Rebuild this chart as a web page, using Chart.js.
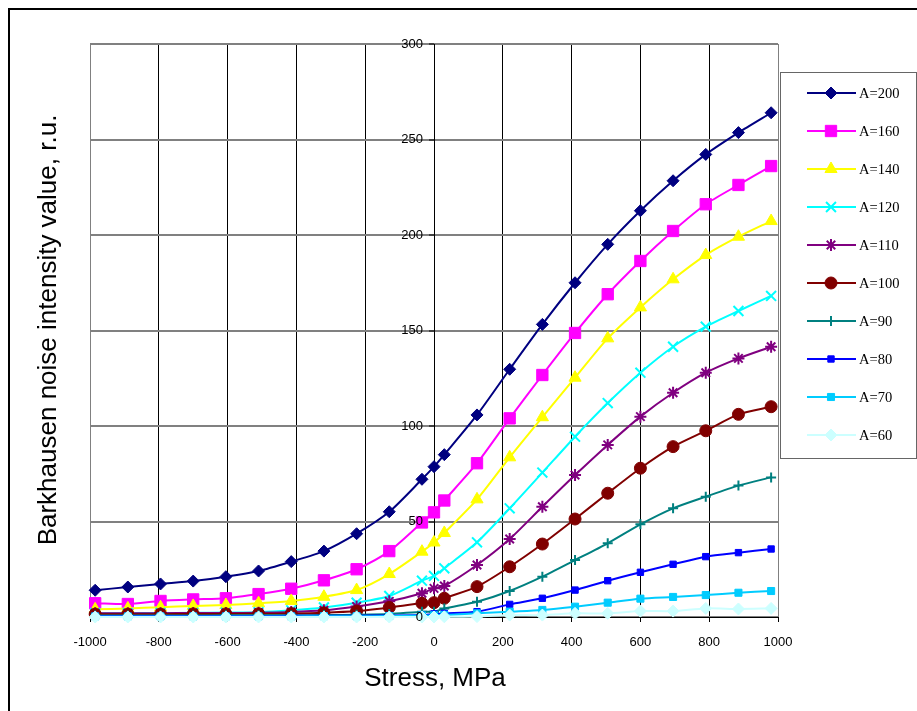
<!DOCTYPE html>
<html>
<head>
<meta charset="utf-8">
<script src="https://cdn.jsdelivr.net/npm/chart.js@4.4.1/dist/chart.umd.min.js"></script>
<style>
  html, body { margin: 0; padding: 0; background: #fff; }
  canvas { display: block; }
</style>
</head>
<body>
<canvas id="chart" width="917" height="711"></canvas>
<script>
// stress values, MPa
const stress = [-985, -890, -795, -700, -605, -510, -415, -320, -225, -130, -35, 0, 30,
  125, 220, 315, 410, 505, 600, 695, 790, 885, 980];

const seriesNames = ['A=200', 'A=160', 'A=140', 'A=120', 'A=110', 'A=100', 'A=90', 'A=80', 'A=70', 'A=60'];

const a200 = [14.0, 15.7, 17.3, 18.8, 21.1, 24.1, 29.0, 34.5, 43.6, 55.1, 72.1, 78.7, 85.0,
  105.8, 129.7, 153.2, 175.0, 195.1, 212.7, 228.4, 242.2, 253.6, 264.0];
const a160 = [7.2, 6.8, 8.4, 9.2, 9.8, 12.0, 14.8, 19.2, 25.0, 34.5, 49.5, 54.8, 61.0,
  80.5, 104.0, 126.7, 148.7, 169.0, 186.4, 202.1, 216.1, 226.2, 236.1];
const a140 = [4.0, 4.5, 5.1, 5.8, 6.3, 7.2, 8.4, 10.6, 14.1, 22.5, 34.2, 39.0, 44.0,
  61.6, 83.6, 104.6, 125.3, 145.9, 162.1, 176.8, 189.5, 199.1, 207.3];
const a120 = [2.0, 2.0, 2.1, 2.2, 2.3, 2.5, 3.5, 5.0, 7.5, 11.0, 19.0, 21.5, 25.5,
  39.1, 56.9, 75.6, 94.4, 112.0, 127.9, 141.5, 152.0, 160.2, 168.1];
const a110 = [2.0, 2.0, 2.0, 2.1, 2.1, 2.2, 2.6, 3.5, 5.5, 8.2, 12.4, 15.0, 16.2,
  27.2, 40.8, 57.7, 74.3, 90.1, 104.9, 117.4, 127.9, 135.4, 141.5];
const a100 = [1.5, 1.5, 1.5, 1.6, 1.6, 1.7, 1.8, 2.2, 3.1, 5.0, 7.2, 7.5, 9.8,
  15.9, 26.3, 38.2, 51.3, 64.8, 77.9, 89.2, 97.5, 106.1, 110.1];
const a90 = [0.8, 0.8, 0.8, 0.8, 0.9, 0.9, 0.9, 1.0, 1.2, 1.6, 2.8, 2.8, 4.5,
  8.0, 13.6, 21.1, 29.8, 38.6, 48.5, 56.9, 63.0, 68.8, 73.1];
const a80 = [0.5, 0.5, 0.5, 0.5, 0.5, 0.5, 0.6, 0.6, 0.7, 0.8, 1.0, 1.6, 1.9,
  2.8, 6.6, 9.8, 14.1, 19.0, 23.4, 27.6, 31.6, 33.7, 35.6];
const a70 = [0.3, 0.3, 0.3, 0.3, 0.3, 0.3, 0.3, 0.4, 0.4, 0.5, 0.8, 0.9, 1.1,
  1.9, 2.8, 3.7, 5.4, 7.5, 9.6, 10.5, 11.5, 12.7, 13.6];
const a60 = [0, 0, 0, 0, 0, 0, 0, 0, 0, 0, 0, 0, 0.1,
  0.2, 1.0, 1.0, 1.9, 1.9, 3.1, 3.1, 4.5, 4.2, 4.5];

const seriesValues = [a200, a160, a140, a120, a110, a100, a90, a80, a70, a60];

const xTicks = [-1000, -800, -600, -400, -200, 0, 200, 400, 600, 800, 1000];
const yTicks = [0, 50, 100, 150, 200, 250, 300];

// styles
const colors = ['#000080', '#FF00FF', '#FFFF00', '#00FFFF', '#800080', '#800000', '#008080', '#0000FF', '#00CCFF', '#CCFFFF'];
const markers = ['rectRot', 'rect', 'triangle', 'crossRot', 'star', 'circle', 'cross', 'rect', 'rect', 'rectRot'];
const radii = [6, 8, 7, 7, 6, 6, 5, 4.5, 5, 6];

const datasets = seriesNames.map((name, i) => ({
  label: name,
  data: stress.map((x, j) => ({ x: x, y: seriesValues[i][j] })),
  borderColor: colors[i],
  backgroundColor: colors[i],
  borderWidth: 2,
  pointStyle: markers[i],
  pointRadius: radii[i],
  pointBorderColor: colors[i],
  pointBackgroundColor: colors[i],
  pointBorderWidth: (markers[i] === 'crossRot' || markers[i] === 'star' || markers[i] === 'cross') ? 2 : 1,
  tension: 0.25,
  clip: false,
  order: seriesNames.length - 1 - i
}));

const decorations = {
  id: 'decorations',
  afterDatasetsDraw(chart) {
    // y tick labels sit to the left of the y axis that crosses at x = 0
    const ctx = chart.ctx;
    const ys = chart.scales.y;
    const xs = chart.scales.x;
    const axisX = xs.getPixelForValue(0);
    ctx.save();
    ctx.fillStyle = '#000';
    ctx.font = '13px "Liberation Sans", Arial, sans-serif';
    ctx.textAlign = 'right';
    ctx.textBaseline = 'middle';
    yTicks.forEach(v => ctx.fillText(String(v), axisX - 11, ys.getPixelForValue(v)));
    ctx.restore();
  },
  afterDraw(chart) {
    const ctx = chart.ctx;
    ctx.save();
    // outer frame
    ctx.strokeStyle = '#000';
    ctx.lineWidth = 2;
    ctx.strokeRect(9, 9, 2000, 2000);

    // axis titles
    ctx.fillStyle = '#000';
    ctx.font = '26px "Liberation Sans", Arial, sans-serif';
    ctx.textAlign = 'center';
    ctx.textBaseline = 'alphabetic';
    ctx.fillText('Stress, MPa', 435, 686);
    ctx.save();
    ctx.translate(56, 330);
    ctx.rotate(-Math.PI / 2);
    ctx.fillText('Barkhausen noise intensity value, r.u.', 0, 0);
    ctx.restore();

    // legend
    const lx = 780, ly = 72, lw = 136, lh = 386;
    ctx.fillStyle = '#fff';
    ctx.fillRect(lx, ly, lw, lh);
    ctx.strokeStyle = '#666';
    ctx.lineWidth = 1;
    ctx.strokeRect(lx + 0.5, ly + 0.5, lw, lh);
    ctx.font = '14.5px "Liberation Serif", "Times New Roman", serif';
    ctx.textAlign = 'left';
    ctx.textBaseline = 'middle';
    seriesNames.forEach((name, i) => {
      const y = 93 + 38 * i;
      ctx.strokeStyle = colors[i];
      ctx.lineWidth = 2;
      ctx.beginPath();
      ctx.moveTo(807, y);
      ctx.lineTo(856, y);
      ctx.stroke();
      ctx.fillStyle = colors[i];
      ctx.lineWidth = datasets[i].pointBorderWidth;
      Chart.helpers.drawPoint(ctx, { pointStyle: markers[i], radius: radii[i], rotation: 0, borderWidth: datasets[i].pointBorderWidth }, 831, y);
      ctx.fillStyle = '#000';
      ctx.fillText(name, 859, y + 1);
    });
    ctx.restore();
  }
};

Chart.defaults.font.family = '"Liberation Sans", Arial, sans-serif';
Chart.defaults.font.size = 13;
Chart.defaults.color = '#000';

new Chart(document.getElementById('chart'), {
  type: 'line',
  data: { datasets: datasets },
  options: {
    responsive: false,
    animation: false,
    events: [],
    layout: { padding: { left: 90, top: 44, right: 139, bottom: 0 } },
    plugins: { legend: { display: false }, tooltip: { enabled: false } },
    scales: {
      x: {
        type: 'linear',
        min: -1000,
        max: 1000,
        afterBuildTicks: (axis) => { axis.ticks = xTicks.map(v => ({ value: v })); },
        afterFit: (axis) => { axis.height = 94; },
        ticks: { padding: 13, callback: (v) => String(v), maxRotation: 0, autoSkip: false },
        grid: {
          color: (c) => (c.tick && Math.abs(c.tick.value) === 1000) ? '#808080' : '#000',
          lineWidth: 1,
          tickLength: 5,
          tickColor: '#000'
        },
        border: { color: '#000', width: 1 }
      },
      y: {
        type: 'linear',
        min: 0,
        max: 300,
        position: { x: 0 },
        afterBuildTicks: (axis) => { axis.ticks = yTicks.map(v => ({ value: v })); },
        ticks: { display: false },
        grid: {
          color: '#808080',
          lineWidth: 2,
          tickLength: 5,
          tickColor: '#000',
          tickWidth: 1
        },
        border: { color: '#000', width: 1 }
      }
    }
  },
  plugins: [decorations]
});
</script>
</body>
</html>
